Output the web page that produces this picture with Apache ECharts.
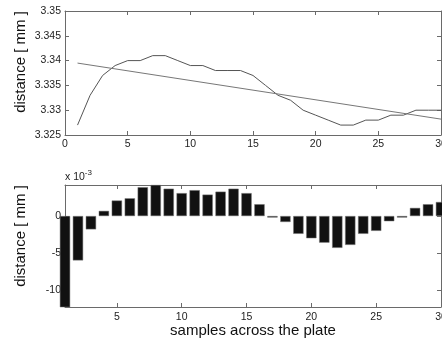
<!DOCTYPE html>
<html>
<head>
<meta charset="utf-8">
<script src="https://cdn.jsdelivr.net/npm/echarts@6/dist/echarts.min.js"></script>
<style>html,body{margin:0;padding:0;background:#fff}#c{width:442px;height:343px}</style>
</head>
<body>
<div id="c"></div>
<script>
// ---- data ----
var samples = [1,2,3,4,5,6,7,8,9,10,11,12,13,14,15,16,17,18,19,20,21,22,23,24,25,26,27,28,29,30];
var measured = [3.327,3.333,3.337,3.339,3.340,3.340,3.341,3.341,3.340,3.339,3.339,3.338,3.338,3.338,3.337,3.335,3.333,3.332,3.330,3.329,3.328,3.327,3.327,3.328,3.328,3.329,3.329,3.330,3.330,3.330];
var fitX = [1, 30];
var fitY = [3.3395, 3.3282];
var residuals = [-12.4,-6.0,-1.8,0.7,2.1,2.4,3.9,4.2,3.7,3.1,3.5,2.9,3.3,3.7,3.1,1.6,-0.2,-0.8,-2.4,-3.0,-3.6,-4.3,-3.9,-2.4,-2.0,-0.7,-0.2,1.1,1.6,1.9];
var topXTicks = [0,5,10,15,20,25,30];
var topYTicks = [3.325,3.33,3.335,3.34,3.345,3.35];
var botXTicks = [5,10,15,20,25,30];
var botYTicks = [-10,-5,0];

var FONT = 'Liberation Sans, Arial, sans-serif';
var axisCol = '#6a6a6a';
function zip(a,b){return a.map(function(v,i){return [v,b[i]];});}

function baseAxis(extra){
  var o = {
    axisLine:{show:true,onZero:false,lineStyle:{color:axisCol,width:1}},
    axisTick:{show:true,inside:true,length:4,lineStyle:{color:axisCol}},
    splitLine:{show:false},
    axisLabel:{show:true,fontSize:10.5,color:'#222',fontFamily:FONT}
  };
  for (var k in extra){
    if (typeof extra[k]==='object' && o[k] && !Array.isArray(extra[k])) { for (var j in extra[k]) o[k][j]=extra[k][j]; }
    else o[k]=extra[k];
  }
  return o;
}

var chart = echarts.init(document.getElementById('c'), null, {renderer:'canvas'});
chart.setOption({
  animation:false,
  backgroundColor:'#fff',
  grid:[
    {left:65, top:11, width:376, height:124, containLabel:false, outerBoundsMode:'none'},
    {left:65, top:185, width:376, height:122, containLabel:false, outerBoundsMode:'none'}
  ],
  xAxis:[
    baseAxis({gridIndex:0,type:'value',position:'bottom',min:0,max:30,interval:5,
      axisLabel:{margin:4,customValues:topXTicks},axisTick:{customValues:topXTicks}}),
    baseAxis({gridIndex:0,type:'value',position:'top',min:0,max:30,interval:5,
      axisLabel:{show:false}}),
    baseAxis({gridIndex:1,type:'value',position:'bottom',min:1,max:30,
      axisTick:{customValues:botXTicks},axisLabel:{margin:5,customValues:botXTicks}}),
    baseAxis({gridIndex:1,type:'value',position:'top',min:1,max:30,
      axisTick:{customValues:botXTicks},axisLabel:{show:false}})
  ],
  yAxis:[
    baseAxis({gridIndex:0,type:'value',position:'left',min:3.325,max:3.35,interval:0.005,
      axisLabel:{margin:4,formatter:function(v){return String(+v.toFixed(3));}}}),
    baseAxis({gridIndex:0,type:'value',position:'right',min:3.325,max:3.35,interval:0.005,
      axisLabel:{show:false}}),
    baseAxis({gridIndex:1,type:'value',position:'left',min:-12.3,max:4.2,
      axisTick:{customValues:botYTicks},axisLabel:{margin:4,customValues:botYTicks}}),
    baseAxis({gridIndex:1,type:'value',position:'right',min:-12.3,max:4.2,
      axisTick:{customValues:botYTicks},axisLabel:{show:false}})
  ],
  series:[
    {type:'line',xAxisIndex:0,yAxisIndex:0,data:zip(samples,measured),symbol:'none',
      lineStyle:{color:'#555',width:1}},
    {type:'line',xAxisIndex:0,yAxisIndex:0,data:zip(fitX,fitY),symbol:'none',
      lineStyle:{color:'#777',width:1}},
    {type:'bar',xAxisIndex:2,yAxisIndex:2,data:zip(samples,residuals),barWidth:10.3,
      itemStyle:{color:'#111',borderColor:'#777',borderWidth:0.5}}
  ],
  graphic:[
    {type:'text',x:21,y:62,rotation:Math.PI/2,style:{text:'distance [ mm ]',font:'15px '+FONT,fill:'#111',align:'center',verticalAlign:'middle'}},
    {type:'text',x:21,y:236,rotation:Math.PI/2,style:{text:'distance [ mm ]',font:'15px '+FONT,fill:'#111',align:'center',verticalAlign:'middle'}},
    {type:'text',x:253,y:331,style:{text:'samples across the plate',font:'15px '+FONT,fill:'#111',align:'center',verticalAlign:'middle'}},
    {type:'text',x:65,y:177,style:{text:'{a|x 10}{b|-3}',verticalAlign:'middle',
      rich:{a:{fontSize:10.5,fontFamily:FONT,fill:'#222'},b:{fontSize:8,fontFamily:FONT,fill:'#222',verticalAlign:'top',padding:[0,0,8,0]}}}}
  ]
});
</script>
</body>
</html>
